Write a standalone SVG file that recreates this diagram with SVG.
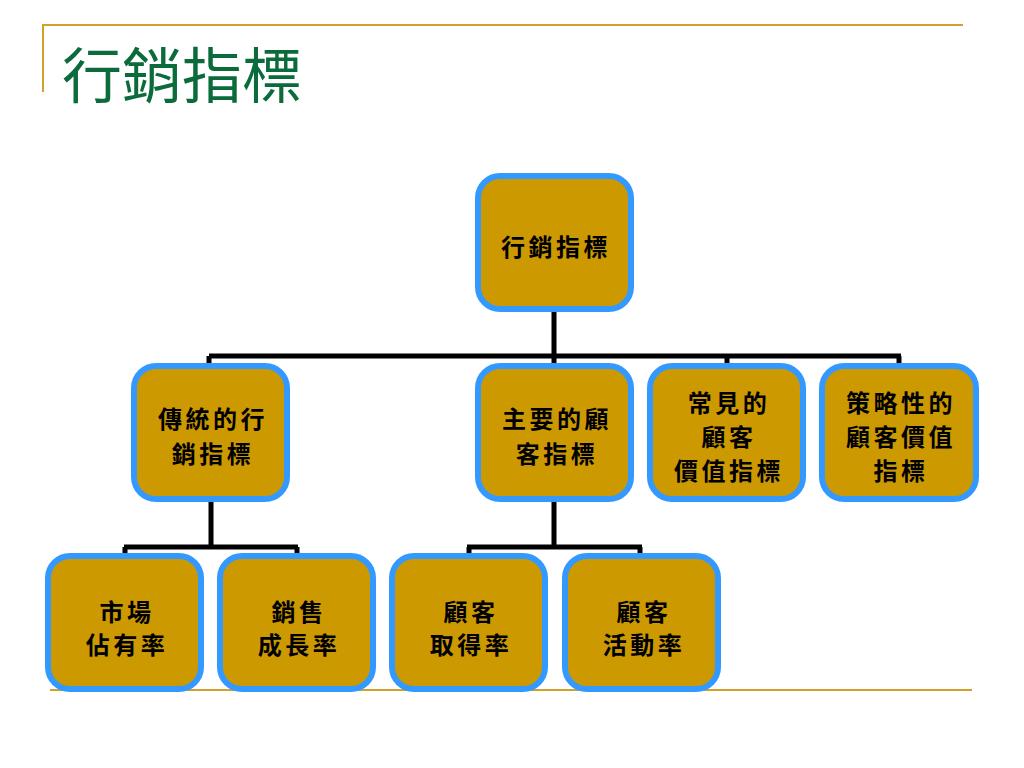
<svg xmlns="http://www.w3.org/2000/svg" width="1024" height="768" viewBox="0 0 1024 768">
<style>
.node rect{fill:#CC9900;stroke:#3399FF;stroke-width:6}
.node text{font-family:"Noto Sans CJK TC","Noto Sans CJK SC",sans-serif;font-weight:bold;font-size:24px;fill:#000;text-anchor:middle;dominant-baseline:central;letter-spacing:3.5px}
.conn path{fill:none;stroke:#000;stroke-width:5}
.rule{stroke:#D1A22B;stroke-width:2;fill:none}
.title{font-family:"Noto Sans CJK TC","Noto Sans CJK SC",sans-serif;font-size:60px;fill:#0B6B3A}
</style>
<rect x="0" y="0" width="1024" height="768" fill="#fff"/>
<path class="rule" d="M43,92 V25 H963"/>
<path class="rule" d="M50,690 H972"/>
<text class="title" x="62" y="98">行銷指標</text>
<g class="conn" id="connectors">
<path d="M554,309 V356 M209,356 H901 M209,356 V366 M554,356 V366 M727,356 V366 M899,356 V366"/>
<path d="M211,499 V547 M124,547 H298 M125,547 V556 M297,547 V556"/>
<path d="M554,499 V547 M467,547 H642 M469,547 V556 M640,547 V556"/>
</g>
<g class="node" id="n-root"><rect x="478" y="176" width="153" height="133" rx="22"/><text x="556" y="245">行銷指標</text></g>
<g class="node" id="n-traditional"><rect x="134" y="366" width="153" height="133" rx="22"/><text x="213" y="417">傳統的行</text><text x="213" y="452">銷指標</text></g>
<g class="node" id="n-primary"><rect x="478" y="366" width="153" height="133" rx="22"/><text x="557" y="417">主要的顧</text><text x="557" y="452">客指標</text></g>
<g class="node" id="n-common"><rect x="650" y="366" width="153" height="133" rx="22"/><text x="729" y="401">常見的</text><text x="729" y="435">顧客</text><text x="729" y="469">價值指標</text></g>
<g class="node" id="n-strategic"><rect x="822" y="366" width="154" height="133" rx="22"/><text x="901" y="401">策略性的</text><text x="901" y="435">顧客價值</text><text x="901" y="469">指標</text></g>
<g class="node" id="n-market"><rect x="48" y="556" width="153" height="133" rx="22"/><text x="127" y="610">市場</text><text x="127" y="643">佔有率</text></g>
<g class="node" id="n-sales"><rect x="220" y="556" width="153" height="133" rx="22"/><text x="299" y="610">銷售</text><text x="299" y="643">成長率</text></g>
<g class="node" id="n-acq"><rect x="392" y="556" width="153" height="133" rx="22"/><text x="471" y="610">顧客</text><text x="471" y="643">取得率</text></g>
<g class="node" id="n-act"><rect x="565" y="556" width="153" height="133" rx="22"/><text x="644" y="610">顧客</text><text x="644" y="643">活動率</text></g>
</svg>
